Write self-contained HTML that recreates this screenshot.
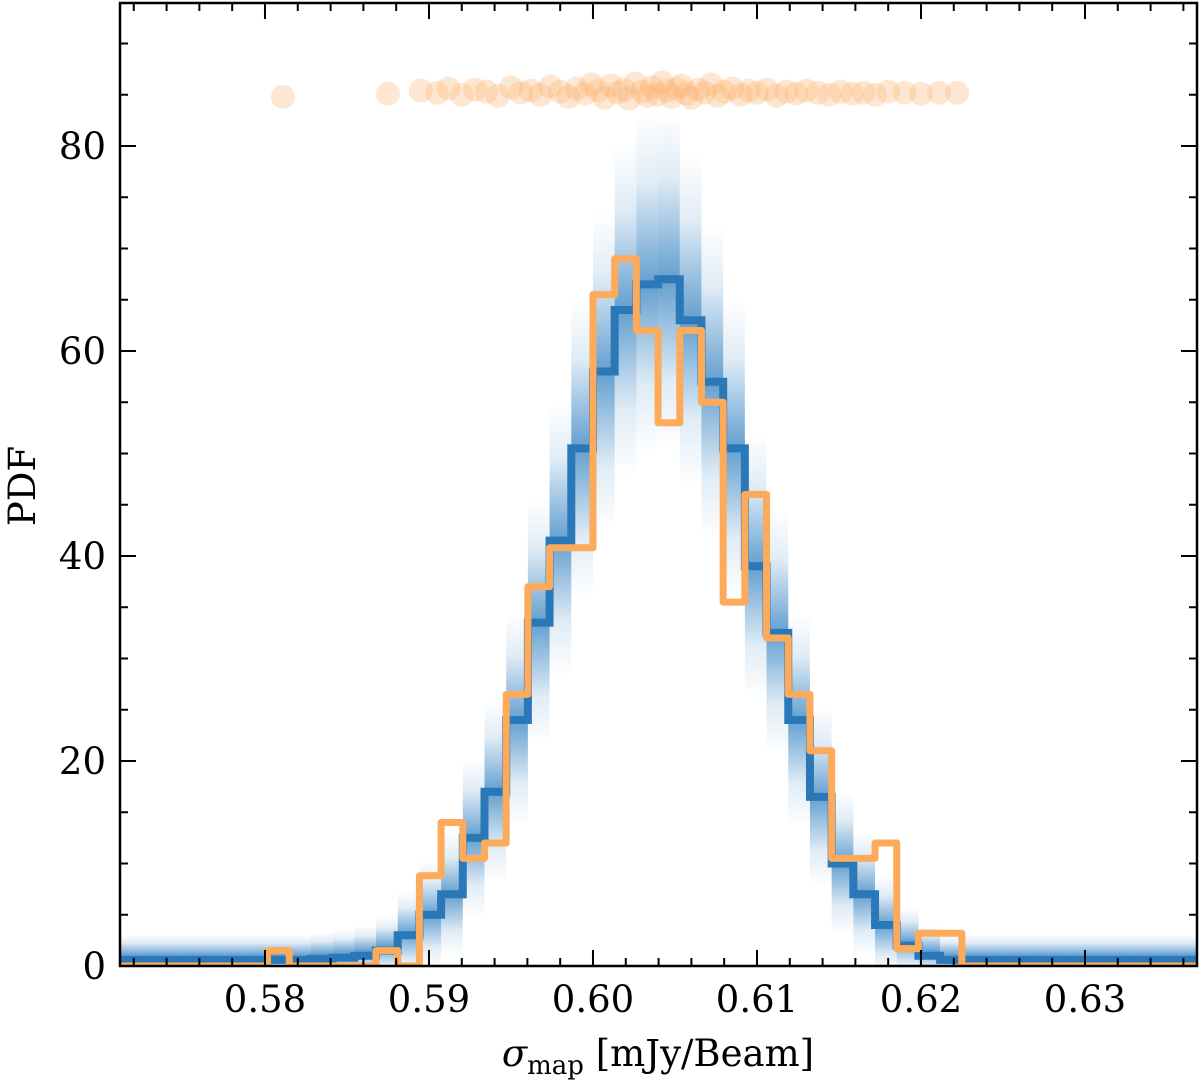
<!DOCTYPE html>
<html><head><meta charset="utf-8"><style>
html,body{margin:0;padding:0;background:#fff;}
svg text{font-family:"DejaVu Serif","Liberation Serif",serif;fill:#000;}
</style></head><body>
<svg id="chart" width="1200" height="1080" viewBox="0 0 1200 1080" xmlns="http://www.w3.org/2000/svg">
<g id="band"></g>
<g id="dots"></g>
<g id="lines"></g>
<g id="axes"></g>
</svg>
<script>
const binStart = 0.60;
const binWidth = 0.001323;
const orangeBinIdx = [-15,-14,-13,-12,-11,-10,-9,-8,-7,-6,-5,-4,-3,-2,-1,0,1,2,3,4,5,6,7,8,9,10,11,12,13,14,15,16];
const orangeValues = [1.5,0,0,0,0,1.5,0,8.8,14,10.5,12,26.5,37,40.8,40.8,65.5,69,62,53,62,55,35.5,46,32,26.5,21,10.5,10.5,12,1.7,3.2,3.2];
const blueBinIdx = [-22,-21,-20,-19,-18,-17,-16,-15,-14,-13,-12,-11,-10,-9,-8,-7,-6,-5,-4,-3,-2,-1,0,1,2,3,4,5,6,7,8,9,10,11,12,13,14,15,16,17,18,19,20,21,22,23,24,25,26,27];
const blueValues = [0.6,0.6,0.6,0.6,0.6,0.6,0.6,0.6,0.6,0.7,0.8,1,1.5,3,5,7,12.5,17,24,33.5,41.5,50.5,58,64,66.5,67,63,57,50.5,39,32.5,24,16.5,10,7,4,2,1,0.6,0.6,0.6,0.6,0.6,0.6,0.6,0.6,0.6,0.6,0.6,0.6];
const dotX = [0.5811,0.5875,0.5895,0.5905,0.5912,0.5920,0.5928,0.5935,0.5942,0.5950,0.5956,0.5962,0.5968,0.5974,0.5980,0.5985,0.5990,0.5995,0.5999,0.6003,0.6007,0.6011,0.6015,0.6019,0.6022,0.6026,0.6030,0.6033,0.6036,0.6039,0.6042,0.6045,0.6048,0.6051,0.6054,0.6057,0.6060,0.6064,0.6068,0.6072,0.6076,0.6080,0.6085,0.6090,0.6095,0.6100,0.6106,0.6112,0.6118,0.6124,0.6130,0.6137,0.6144,0.6151,0.6158,0.6165,0.6172,0.6180,0.6190,0.6200,0.6211,0.6222];
const dotY = [84.8,85.1,85.4,85.2,85.6,85.0,85.5,85.3,84.9,85.7,85.2,85.4,85.0,85.8,85.3,84.8,85.6,85.1,86.0,85.4,84.7,85.9,85.2,85.5,84.6,86.1,85.3,84.9,85.7,85.0,86.2,85.4,84.8,85.6,85.9,85.1,84.7,85.5,85.2,86.0,84.9,85.3,85.6,85.0,85.4,85.2,85.5,84.9,85.3,85.1,85.4,85.2,85.0,85.3,85.1,85.2,85.0,85.3,85.2,85.1,85.2,85.2];
const xTicks = [0.58,0.59,0.60,0.61,0.62,0.63];
const xTickLabels = ["0.58","0.59","0.60","0.61","0.62","0.63"];
const yTicks = [0,20,40,60,80];
const yTickLabels = ["0","20","40","60","80"];

const L=120,R=1197,T=3,B=966;
const xMin=0.57116,xMax=0.63683,yMin=0,yMax=93.95;
const sx=v=>L+(v-xMin)/(xMax-xMin)*(R-L);
const sy=v=>B-(v-yMin)/(yMax-yMin)*(B-T);
const NS="http://www.w3.org/2000/svg";
function mk(tag,parent,attrs){const e=document.createElementNS(NS,tag);for(const k in attrs)e.setAttribute(k,attrs[k]);parent.appendChild(e);return e;}
const svg=document.getElementById('chart');
const defs=mk('defs',svg,{});
const grad=mk('linearGradient',defs,{id:'bg',x1:0,y1:0,x2:0,y2:1});
[[0,0],[0.2,0.15],[0.5,0.75],[0.8,0.15],[1,0]].forEach(s=>mk('stop',grad,{offset:s[0],'stop-color':'#2f7fc0','stop-opacity':s[1]}));
const cp=mk('clipPath',defs,{id:'clip'});mk('rect',cp,{x:L,y:T,width:R-L,height:B-T});
const band=document.getElementById('band');band.setAttribute('clip-path','url(#clip)');
blueBinIdx.forEach((k,i)=>{
  const v=blueValues[i];const x0=sx(binStart+k*binWidth),x1=sx(binStart+(k+1)*binWidth);
  const sp=1.9*Math.sqrt(v)+1.0;
  const r=mk('rect',band,{x:x0,y:sy(v+sp),width:x1-x0,height:sy(Math.max(v-sp,-1))-sy(v+sp),fill:'url(#bg)'});
  
  
});
const dots=document.getElementById('dots');
dotX.forEach((x,i)=>{
  const c=mk('circle',dots,{cx:sx(x),cy:sy(dotY[i]),r:12,fill:'#fdae6b','fill-opacity':0.3});
  
  
});
function stepPath(idx,vals,extendEdges){
  let d='';
  if(extendEdges) d+='M'+L+','+sy(0)+'L'+sx(binStart+idx[0]*binWidth)+','+sy(0);
  idx.forEach((k,i)=>{
    const x0=sx(binStart+k*binWidth),x1=sx(binStart+(k+1)*binWidth),y=sy(vals[i]);
    d+=(d?'L':'M')+x0+','+y+'L'+x1+','+y;
  });
  if(extendEdges){const last=idx[idx.length-1];d+='L'+sx(binStart+(last+1)*binWidth)+','+sy(0)+'L'+R+','+sy(0);}
  return d;
}
const lines=document.getElementById('lines');lines.setAttribute('clip-path','url(#clip)');
const bl=mk('path',lines,{d:stepPath(blueBinIdx,blueValues,false),fill:'none',stroke:'#2b78b8','stroke-width':8,'stroke-linejoin':'miter'});


const ol=mk('path',lines,{d:stepPath(orangeBinIdx,orangeValues,true),fill:'none',stroke:'#fdaa5a','stroke-width':7,'stroke-linejoin':'round'});


const ax=document.getElementById('axes');
const fr=mk('rect',ax,{x:L,y:T,width:R-L,height:B-T,fill:'none',stroke:'#000','stroke-width':2.5});


for(let v=0.572;v<=0.6365;v+=0.002){const x=sx(v);const major=xTicks.some(t=>Math.abs(t-v)<1e-6);const len=major?16:8;
  mk('line',ax,{x1:x,x2:x,y1:B,y2:B-len,stroke:'#000','stroke-width':2});mk('line',ax,{x1:x,x2:x,y1:T,y2:T+len,stroke:'#000','stroke-width':2});}
for(let v=0;v<=93;v+=5){const y=sy(v);const len=v%20===0?16:8;
  mk('line',ax,{x1:L,x2:L+len,y1:y,y2:y,stroke:'#000','stroke-width':2});mk('line',ax,{x1:R,x2:R-len,y1:y,y2:y,stroke:'#000','stroke-width':2});}
xTicks.forEach((t,i)=>{const tx=mk('text',ax,{x:sx(t),y:1012,'font-size':37,'text-anchor':'middle'});tx.textContent=xTickLabels[i];
  
  });
yTicks.forEach((t,i)=>{const tx=mk('text',ax,{x:106,y:sy(t)+13,'font-size':37,'text-anchor':'end'});tx.textContent=yTickLabels[i];
  
  });
</script>
<svg style="position:absolute;left:0;top:0" width="1200" height="1080">
<text x="0" y="0" transform="translate(35,486) rotate(-90)" text-anchor="middle" font-size="37" font-family="DejaVu Serif, Liberation Serif, serif">PDF</text>
<text x="658" y="1066" text-anchor="middle" font-size="37" font-family="DejaVu Serif, Liberation Serif, serif"><tspan font-style="italic">σ</tspan><tspan font-size="26" dy="8">map</tspan><tspan dy="-8"> [mJy/Beam]</tspan></text>
</svg>
</body></html>
